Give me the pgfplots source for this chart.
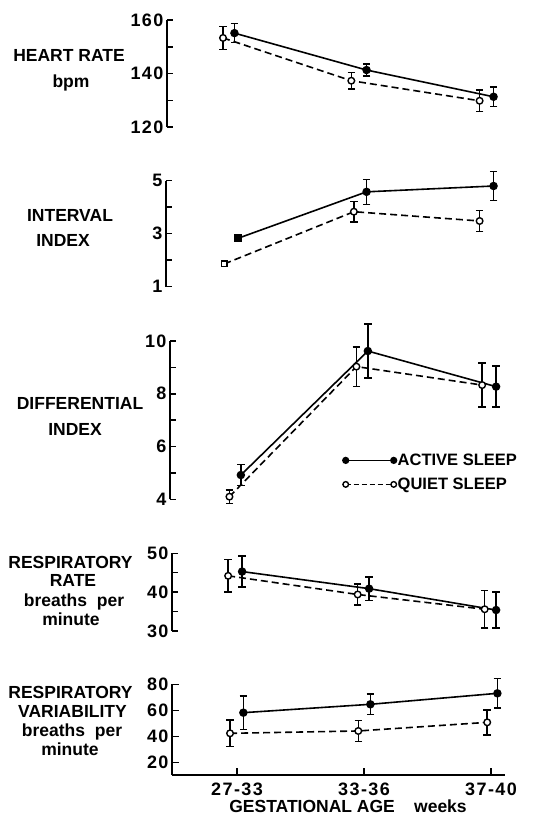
\documentclass[border=0pt]{standalone}
\usepackage{fontspec}
\setmainfont{Liberation Sans}
\usepackage{pgfplots}
\pgfplotsset{compat=1.18}

\newcommand{\lf}{\bfseries\fontsize{17.5}{19}\selectfont}
\newcommand{\legf}{\bfseries\fontsize{16.5}{19}\selectfont}
\newcommand{\tf}{\bfseries\fontsize{18}{19}\selectfont\addfontfeature{LetterSpace=8}}

\pgfplotsset{
  panel/.style={
    scale only axis, clip=false,
    axis y line*=left,
    xmax=2.11,
    tick align=inside,
    major tick length=6pt,
    every tick/.style={black, line width=1.5pt},
    axis line style={line width=1.5pt, black},
    /pgf/number format/assume math mode=true,
    yticklabel style={font=\tf},
    anchor=south west,
  },
  nox/.style={axis x line=none, xtick=\empty},
  eb/.style={error bars/y dir=both, error bars/y explicit,
    error bars/error bar style={line width=1.5pt, solid, black},
    error bars/error mark=-,
    error bars/error mark options={line width=1.5pt, mark size=3.8pt, solid, black, rotate=90}},
  act/.style={black, line width=1.6pt, mark=*, mark size=3.4pt, mark options={solid, fill=black}},
  qui/.style={black, line width=1.6pt, dash pattern=on 7pt off 4pt, mark=*, mark size=3.3pt, mark options={solid, fill=white, line width=1.4pt}},
}

\begin{document}
\begin{tikzpicture}
\path[use as bounding box] (0,0) rectangle (535pt,-816pt);

% ---------- Heart rate ----------
\begin{axis}[panel, nox, at={(167pt,-127pt)}, width=338pt, height=107pt,
  xmin=-0.551, ymin=120, ymax=160,
  ytick={120,130,140,150,160}, yticklabels={120,,140,,160}]
\addplot[qui, eb] coordinates {(-0.11,153.3) +- (0,4.3) (0.90,137.3) +- (0,3) (1.91,129.8) +- (0,4)};
\addplot[act, eb] coordinates {(-0.02,155.1) +- (0,3.5) (1.02,141.3) +- (0,2.3) (2.02,131.3) +- (0,3.6)};
\end{axis}
\node[anchor=base, font=\lf] at (69pt,-62pt) {HEART RATE};
\node[anchor=base, font=\lf] at (71pt,-87pt) {bpm};

% ---------- Interval index ----------
\begin{axis}[panel, nox, at={(166pt,-286.7pt)}, width=339pt, height=106pt,
  xmin=-0.559, ymin=1, ymax=5,
  ytick={1,2,3,4,5}, yticklabels={1,,3,,5}]
\addplot[qui, mark=none] coordinates {(-0.10,1.86) (0.92,3.83) (1.91,3.48)};
\addplot[qui, only marks, eb] coordinates {(0.92,3.83) +- (0,0.38) (1.91,3.48) +- (0,0.4)};
\addplot[qui, only marks, mark=square*, mark size=2.8pt] coordinates {(-0.10,1.86)};
\addplot[act, mark=none] coordinates {(0.01,2.83) (1.02,4.58) (2.02,4.80)};
\addplot[act, only marks, eb] coordinates {(1.02,4.58) +- (0,0.47) (2.02,4.80) +- (0,0.55)};
\addplot[act, only marks, mark=square*, mark size=3pt] coordinates {(0.01,2.83)};
\end{axis}
\node[anchor=base, font=\lf] at (70pt,-221.7pt) {INTERVAL};
\node[anchor=base, font=\lf] at (63pt,-246.7pt) {INDEX};

% ---------- Differential index ----------
\begin{axis}[panel, nox, at={(170pt,-499.3pt)}, width=335pt, height=158.3pt,
  xmin=-0.528, ymin=4, ymax=10,
  ytick={4,5,6,7,8,9,10}, yticklabels={4,,6,,8,,10},
  legend style={draw=none, fill=none, at={(0.515,0.17)}, anchor=west,
    font=\legf, row sep=9pt, inner sep=0pt, nodes={inner sep=1pt}},
  legend cell align=left,
  legend image code/.code={\draw[mark repeat=1,#1] plot coordinates {(0pt,0pt) (48pt,0pt)};}]
\addplot[qui, eb, forget plot] coordinates {(-0.06,4.1) +- (0,0.25) (0.94,9.03) +- (0,0.75) (1.93,8.33) +- (0,0.83)};
\addplot[act, eb, forget plot] coordinates {(0.03,4.92) +- (0,0.4) (1.03,9.62) +- (0,1.02) (2.04,8.27) +- (0,0.78)};
\addlegendimage{act, line width=1.2pt, mark size=3pt}
\addlegendentry{ACTIVE SLEEP}
\addlegendimage{qui, line width=1.2pt, dash pattern=on 5pt off 3pt, mark size=2.8pt}
\addlegendentry{QUIET SLEEP}
\end{axis}
\node[anchor=base, font=\lf] at (80pt,-409pt) {DIFFERENTIAL};
\node[anchor=base, font=\lf] at (75pt,-435pt) {INDEX};

% ---------- Respiratory rate ----------
\begin{axis}[panel, nox, at={(172pt,-631pt)}, width=333pt, height=77.7pt,
  xmin=-0.512, ymin=30, ymax=50,
  ytick={30,35,40,45,50}, yticklabels={30,,40,,50}]
\addplot[qui, eb] coordinates {(-0.07,44.2) +- (0,4.2) (0.95,39.4) +- (0,2.7) (1.95,35.6) +- (0,4.8)};
\addplot[act, eb] coordinates {(0.04,45.3) +- (0,4) (1.04,40.9) +- (0,3) (2.04,35.4) +- (0,4.6)};
\end{axis}
\node[anchor=base, font=\lf] at (70.5pt,-568.3pt) {RESPIRATORY};
\node[anchor=base, font=\lf] at (73pt,-586.7pt) {RATE};
\node[anchor=base, font=\lf] at (74pt,-606pt) {breaths\ \ per};
\node[anchor=base, font=\lf] at (71pt,-625pt) {minute};

% ---------- Respiratory variability ----------
\begin{axis}[panel, at={(172pt,-775pt)}, width=333pt, height=90.7pt,
  axis x line*=bottom,
  xmin=-0.512, ymin=10.6, ymax=80,
  ytick={20,40,60,80},
  xtick={0,1,2}, xticklabels={27-33,33-36,37-40},
  major tick length=7pt,
  xticklabel style={font=\tf, yshift=-4pt}]
\addplot[qui, eb] coordinates {(-0.055,42.5) +- (0,10.2) (0.955,44.3) +- (0,8) (1.97,50.9) +- (0,9.5)};
\addplot[act, eb] coordinates {(0.05,58.3) +- (0,12.7) (1.05,64.7) +- (0,7.7) (2.05,73.1) +- (0,11.3)};
\end{axis}
\node[anchor=base, font=\lf] at (70.5pt,-698.3pt) {RESPIRATORY};
\node[anchor=base, font=\lf] at (72.5pt,-717.7pt) {VARIABILITY};
\node[anchor=base, font=\lf] at (72pt,-736.7pt) {breaths\ \ per};
\node[anchor=base, font=\lf] at (70pt,-755.7pt) {minute};
\node[anchor=base, font=\lf] at (348pt,-812pt) {GESTATIONAL AGE\hspace{1.1em}weeks};
\end{tikzpicture}
\end{document}
